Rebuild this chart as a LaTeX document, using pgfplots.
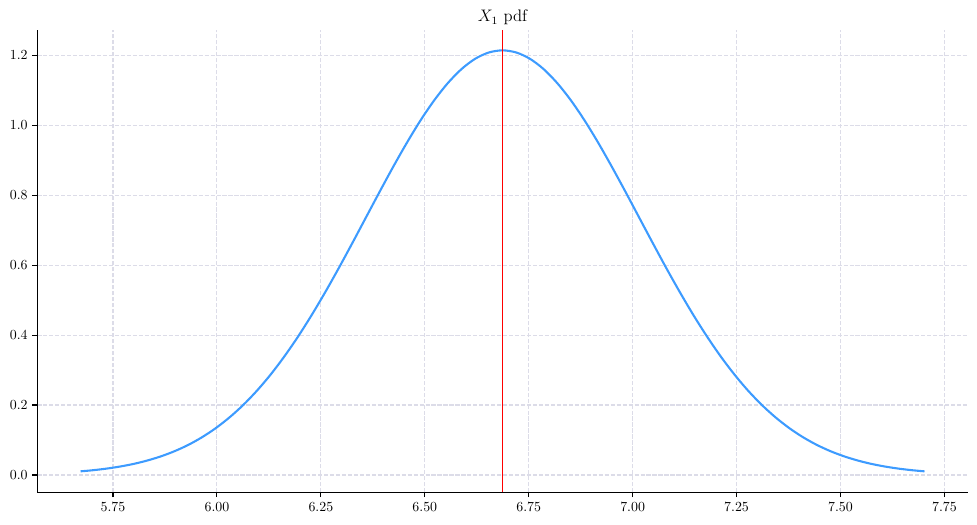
\documentclass[border=0pt]{standalone}
\usepackage{pgfplots}
\pgfplotsset{compat=1.18}
\definecolor{curveblue}{RGB}{61,155,255}
\definecolor{gridc}{RGB}{220,220,232}
\begin{document}
\begin{tikzpicture}
\useasboundingbox (-26.9pt,-23.5pt) rectangle (676.6pt,354.5pt);
\begin{axis}[
  at={(0,0)}, anchor=south west,
  scale only axis,
  width=669.9pt, height=332.9pt,
  xmin=5.568, xmax=7.806,
  ymin=-0.0497, ymax=1.2726,
  axis x line*=bottom, axis y line*=left,
  axis line style={line width=0.8pt, -},
  xtick={5.75,6.00,6.25,6.50,6.75,7.00,7.25,7.50,7.75},
  ytick={0,0.2,0.4,0.6,0.8,1.0,1.2},
  xticklabel style={/pgf/number format/fixed, /pgf/number format/fixed zerofill, /pgf/number format/precision=2},
  yticklabel style={/pgf/number format/fixed, /pgf/number format/fixed zerofill, /pgf/number format/precision=1},
  tick style={black, line width=0.8pt},
  tick align=outside,
  major tick length=3.5pt,
  grid=major,
  major grid style={gridc, dash pattern=on 3pt off 1.3pt, line width=0.8pt},
  title={$X_1$ pdf},
  title style={font=\fontsize{12}{14}\selectfont, yshift=-6pt},
  clip=false,
]
\addplot[curveblue, line width=1.5pt, smooth] coordinates {
(5.6719,0.0103) (5.7015,0.0135) (5.7344,0.0181) (5.7672,0.0241) (5.8001,0.0317)
(5.8329,0.0414) (5.8658,0.0534) (5.8986,0.0682) (5.9315,0.0862) (5.9643,0.1080)
(5.9972,0.1339) (6.0300,0.1644) (6.0629,0.1997) (6.0957,0.2403) (6.1286,0.2863)
(6.1614,0.3377) (6.1943,0.3943) (6.2271,0.4558) (6.2600,0.5217) (6.2928,0.5911)
(6.3257,0.6632) (6.3585,0.7366) (6.3914,0.8100) (6.4242,0.8818) (6.4571,0.9505)
(6.4899,1.0144) (6.5228,1.0717) (6.5556,1.1210) (6.5885,1.1610) (6.6213,1.1904)
(6.6542,1.2083) (6.6870,1.2144)
(6.7199,1.2083) (6.7527,1.1904) (6.7856,1.1610) (6.8184,1.1210) (6.8513,1.0717)
(6.8841,1.0144) (6.9170,0.9505) (6.9498,0.8818) (6.9827,0.8100) (7.0155,0.7366)
(7.0484,0.6632) (7.0812,0.5911) (7.1141,0.5217) (7.1469,0.4558) (7.1798,0.3943)
(7.2126,0.3377) (7.2455,0.2863) (7.2783,0.2403) (7.3112,0.1997) (7.3440,0.1644)
(7.3769,0.1339) (7.4097,0.1080) (7.4426,0.0862) (7.4754,0.0682) (7.5083,0.0534)
(7.5411,0.0414) (7.5740,0.0317) (7.6068,0.0241) (7.6397,0.0181) (7.6725,0.0135)
(7.7021,0.0103)
};
\addplot[red, line width=1pt] coordinates {(6.687,-0.0497) (6.687,1.2726)};
\end{axis}
\end{tikzpicture}
\end{document}
